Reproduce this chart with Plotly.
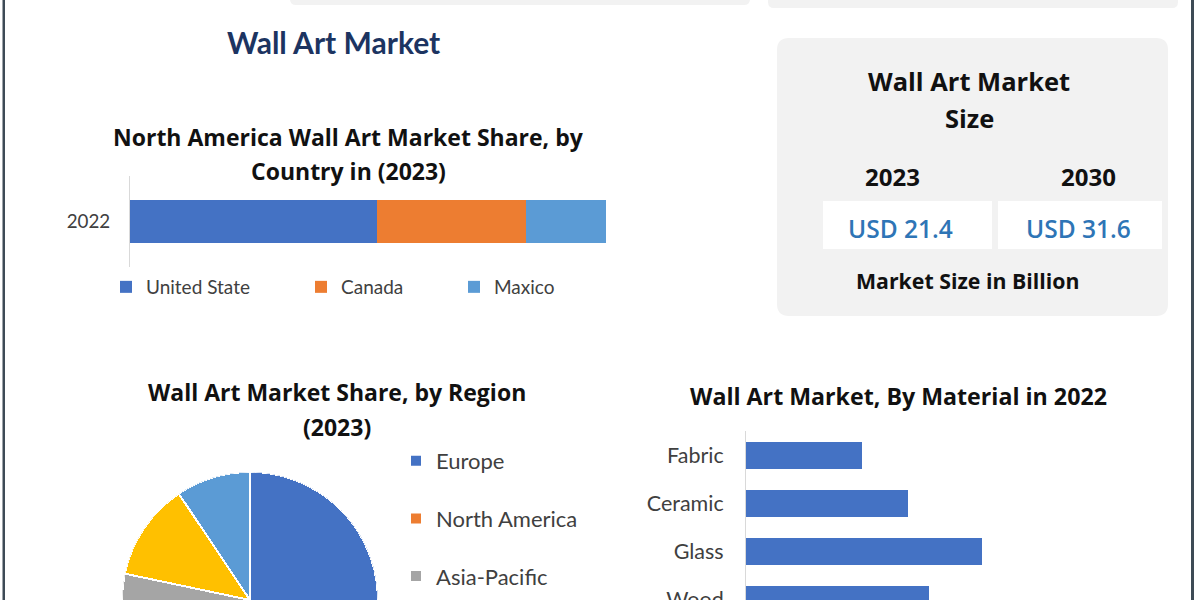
import plotly.graph_objects as go

W, H = 1200, 600

# ---------------- data ----------------
country_year = ["2022"]
countries = ["United State", "Canada", "Maxico"]
country_share = [51.9, 31.3, 16.8]
country_colors = ["#4472c4", "#ed7d31", "#5b9bd5"]

regions = ["Europe", "North America", "Asia-Pacific", "Middle East & Africa", "South America"]
region_share = [35.0, 30.0, 13.3, 12.3, 9.4]
region_colors = ["#4472c4", "#ed7d31", "#a5a5a5", "#ffc000", "#5b9bd5"]

materials = ["Fabric", "Ceramic", "Glass", "Wood"]
material_value = [2.83, 3.95, 5.76, 4.46]

size_years = ["2023", "2030"]
size_values = ["USD 21.4", "USD 31.6"]

# -------------- helpers --------------
def px(x):
    return x / W

def py(y):
    return 1 - y / H

def rrect(x0, y0, x1, y1, r):
    rx, ry = r / W, r / H
    X0, X1 = px(x0), px(x1)
    Y0, Y1 = py(y0), py(y1)
    return (f"M{X0+rx},{Y0} L{X1-rx},{Y0} Q{X1},{Y0} {X1},{Y0-ry} "
            f"L{X1},{Y1+ry} Q{X1},{Y1} {X1-rx},{Y1} L{X0+rx},{Y1} "
            f"Q{X0},{Y1} {X0},{Y1+ry} L{X0},{Y0-ry} Q{X0},{Y0} {X0+rx},{Y0} Z")

REG = "Lato, 'Noto Sans', sans-serif"
BOLD = "'Open Sans', 'Noto Sans', sans-serif"

fig = go.Figure()

# -------- stacked bar (North America) --------
for i, (name, val, col) in enumerate(zip(countries, country_share, country_colors)):
    fig.add_trace(go.Bar(
        x=[val], y=country_year, orientation="h", name=name,
        marker=dict(color=col, line=dict(width=0)), width=0.47,
        xaxis="x", yaxis="y", legend=["legend", "legend2", "legend3"][i],
        hoverinfo="skip"))

# -------- material bars --------
fig.add_trace(go.Bar(
    x=material_value, y=materials, orientation="h", name="Material",
    marker=dict(color="#4472c4", line=dict(width=0)), width=0.56,
    xaxis="x2", yaxis="y2", showlegend=False, hoverinfo="skip"))

# -------- half pie via barpolar --------
start = 0.0
for i, (name, share, col) in enumerate(zip(regions, region_share, region_colors)):
    width = share * 3.6
    fig.add_trace(go.Barpolar(
        r=[1], theta=[start + width / 2], width=[width], name=name,
        marker=dict(color=col, line=dict(color="white", width=2)),
        subplot="polar", legend="legend4", legendgroup=name,
        showlegend=i < 3, hoverinfo="skip"))
    start += width

shapes = [
    dict(type="rect", xref="paper", yref="paper", x0=px(2.5), x1=px(5), y0=0, y1=1,
         fillcolor="#3e4b56", line=dict(width=0), layer="above"),
    dict(type="rect", xref="paper", yref="paper", x0=px(1191), x1=px(1194), y0=0, y1=1,
         fillcolor="#3e4b56", line=dict(width=0), layer="above"),
    dict(type="path", xref="paper", yref="paper", path=rrect(290, -20, 750, 5, 6),
         fillcolor="#f2f2f2", line=dict(width=0), layer="below"),
    dict(type="path", xref="paper", yref="paper", path=rrect(768, -20, 1178, 8, 6),
         fillcolor="#f2f2f2", line=dict(width=0), layer="below"),
    dict(type="path", xref="paper", yref="paper", path=rrect(777, 38, 1168, 316, 12),
         fillcolor="#f2f2f2", line=dict(width=0), layer="below"),
    dict(type="rect", xref="paper", yref="paper", x0=px(823), x1=px(992), y0=py(249), y1=py(201),
         fillcolor="white", line=dict(width=0), layer="below"),
    dict(type="rect", xref="paper", yref="paper", x0=px(998), x1=px(1162), y0=py(249), y1=py(201),
         fillcolor="white", line=dict(width=0), layer="below"),
]

def ann(text, x, y, size, color="#111111", family=BOLD, weight="bold"):
    return dict(text=text, x=px(x), y=py(y), xref="paper", yref="paper",
                xanchor="center", yanchor="middle", showarrow=False,
                font=dict(size=size, color=color, family=family, weight=weight))

annotations = [
    ann("Wall Art Market", 333, 42, 30, color="#1c3461", family=REG, weight="bold"),
    ann("North America Wall Art Market Share, by", 348, 137, 23),
    ann("Country in (2023)", 348, 171, 23),
    ann("Wall Art Market", 969, 81, 25.5),
    ann("Size", 969, 118, 25.5),
    ann(size_years[0], 892, 176, 24),
    ann(size_years[1], 1088, 176, 24),
    ann(size_values[0], 900, 229, 24.5, color="#2e75b6", weight=600),
    ann(size_values[1], 1078, 229, 24.5, color="#2e75b6", weight=600),
    ann("Market Size in Billion", 967, 280, 21.3),
    ann("Wall Art Market Share, by Region", 337, 392, 23),
    ann("(2023)", 337, 427, 23),
    ann("Wall Art Market, By Material in 2022", 898, 396, 23.2),
]

leg_font = dict(family=REG, size=19, color="#404040")

def hleg(x):
    return dict(x=px(x), y=py(287), xanchor="left", yanchor="middle",
                orientation="h", font=leg_font, bgcolor="rgba(0,0,0,0)")

fig.update_layout(
    width=W, height=H, margin=dict(l=0, r=0, t=0, b=0, autoexpand=False),
    paper_bgcolor="white", plot_bgcolor="rgba(0,0,0,0)",
    barmode="stack", bargap=0,
    showlegend=True,
    xaxis=dict(domain=[px(130), px(606)], range=[0, 100], visible=False,
               anchor="y", fixedrange=True, automargin=False),
    yaxis=dict(domain=[py(267), py(176)], type="category", showline=True, anchor="x",
               linecolor="#d9d9d9", linewidth=1, ticks="", showgrid=False, automargin=False,
               ticklabelstandoff=15, tickfont=dict(family=REG, size=18.8, color="#404040"),
               fixedrange=True),
    xaxis2=dict(domain=[px(746), px(1156)], range=[0, 10], visible=False,
                anchor="y2", fixedrange=True, automargin=False),
    yaxis2=dict(domain=[0, py(431)], type="category", range=[3.001, -0.5], anchor="x2",
                showline=True, linecolor="#d9d9d9", linewidth=1, ticks="", showgrid=False,
                automargin=False,
                ticklabelstandoff=17, tickfont=dict(family=REG, size=21.5, color="#404040"),
                fixedrange=True),
    polar=dict(domain=dict(x=[px(122), px(378)], y=[0, 128 / H]),
               sector=[0, 180], hole=0, bgcolor="rgba(0,0,0,0)",
               radialaxis=dict(visible=False, range=[0, 1]),
               angularaxis=dict(visible=False, rotation=90, direction="clockwise",
                                thetaunit="degrees")),
    legend=hleg(106),
    legend2=hleg(301),
    legend3=hleg(454),
    legend4=dict(x=px(396), y=py(440), xanchor="left", yanchor="top",
                 orientation="v", font=dict(family=REG, size=22, color="#404040"),
                 tracegroupgap=26, bgcolor="rgba(0,0,0,0)"),
    shapes=shapes,
    annotations=annotations,
)

fig.write_html("out.html", config={"displayModeBar": False},
               post_script="document.body.style.margin='0px';")
